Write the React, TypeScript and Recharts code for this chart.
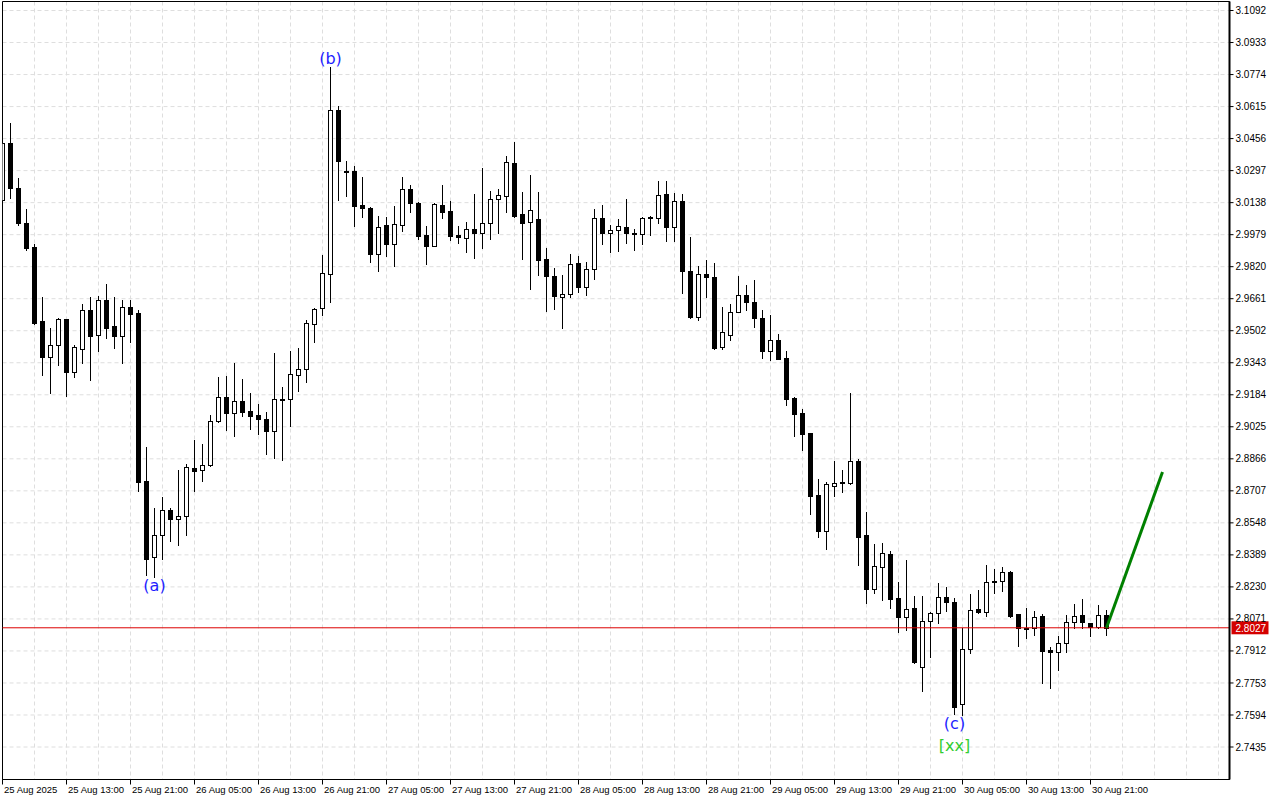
import { ComposedChart, Bar, Line, XAxis, YAxis, CartesianGrid, ReferenceLine, ReferenceDot, ReferenceArea } from 'recharts'

// hourly candles, index 0 = 25 Aug 05:00
const opens = [
  3.0153, 3.0436, 3.0212, 3.0037, 2.9916, 2.9549, 2.9372, 2.9433, 2.9559, 2.9297,
  2.9413, 2.9607, 2.9481, 2.9657, 2.9523, 2.9476, 2.9622, 2.9592, 2.8758, 2.8376,
  2.8486, 2.8610, 2.8565, 2.8583, 2.8818, 2.8808, 2.8836, 2.9056, 2.9175, 2.9091,
  2.9155, 2.9101, 2.9086, 2.9066, 2.9002, 2.9165, 2.9165, 2.9284, 2.9314, 2.9537,
  2.9617, 2.9786, 3.0599, 3.0297, 3.0293, 3.0124, 3.0113, 2.9883, 3.0025, 2.9932,
  3.0029, 3.0207, 3.0136, 2.9976, 2.9923, 3.0128, 3.0098, 2.9976, 2.9962, 3.0009,
  2.9989, 3.0039, 3.0158, 3.0173, 3.0336, 3.0080, 3.0042, 3.0055, 2.9860, 2.9776,
  2.9671, 2.9686, 2.9840, 2.9719, 2.9810, 3.0063, 2.9989, 3.0004, 3.0019, 2.9987,
  2.9984, 3.0068, 3.0063, 3.0183, 3.0019, 3.0148, 2.9800, 2.9572, 2.9786, 2.9771,
  2.9423, 2.9483, 2.9597, 2.9681, 2.9647, 2.9567, 2.9401, 2.9458, 2.9369, 2.9168,
  2.9091, 2.8992, 2.8685, 2.8508, 2.8732, 2.8751, 2.8746, 2.8854, 2.8487, 2.8218,
  2.8327, 2.8391, 2.8173, 2.8082, 2.8123, 2.7834, 2.8062, 2.8098, 2.8178, 2.8153,
  2.7647, 2.7920, 2.8118, 2.8106, 2.8254, 2.8257, 2.8302, 2.8094, 2.8026, 2.8024,
  2.8084, 2.7915, 2.7905, 2.7949, 2.8054, 2.8090, 2.8050, 2.8032, 2.8089,
]
const highs = [
  3.0442, 3.0533, 3.0258, 3.0105, 2.9934, 2.9671, 2.9514, 2.9564, 2.9561, 2.9430,
  2.9633, 2.9671, 2.9676, 2.9732, 2.9671, 2.9657, 2.9653, 2.9603, 2.8925, 2.8624,
  2.8674, 2.8624, 2.8808, 2.8839, 2.8957, 2.8942, 2.9086, 2.9274, 2.9279, 2.9340,
  2.9260, 2.9195, 2.9140, 2.9096, 2.9389, 2.9225, 2.9399, 2.9418, 2.9554, 2.9617,
  2.9876, 3.0811, 3.0616, 3.0343, 3.0318, 3.0265, 3.0115, 3.0070, 3.0066, 3.0121,
  3.0263, 3.0224, 3.0141, 3.0020, 3.0135, 3.0224, 3.0144, 3.0020, 3.0040, 3.0181,
  3.0310, 3.0194, 3.0204, 3.0368, 3.0439, 3.0189, 3.0273, 3.0189, 2.9911, 2.9815,
  2.9781, 2.9885, 2.9875, 2.9845, 3.0108, 3.0124, 3.0029, 3.0058, 3.0154, 3.0009,
  3.0065, 3.0073, 3.0244, 3.0247, 3.0187, 3.0183, 2.9969, 2.9825, 2.9855, 2.9840,
  2.9618, 2.9637, 2.9776, 2.9731, 2.9756, 2.9603, 2.9579, 2.9488, 2.9400, 2.9173,
  2.9111, 2.8994, 2.8768, 2.8751, 2.8854, 2.8810, 2.9195, 2.8863, 2.8600, 2.8441,
  2.8446, 2.8408, 2.8253, 2.8363, 2.8184, 2.8184, 2.8106, 2.8250, 2.8230, 2.8176,
  2.8027, 2.8194, 2.8214, 2.8338, 2.8318, 2.8328, 2.8308, 2.8096, 2.8123, 2.8111,
  2.8094, 2.7931, 2.7986, 2.8092, 2.8145, 2.8169, 2.8052, 2.8140, 2.8115,
]
const lows = [
  3.0149, 3.0163, 3.0025, 2.9903, 2.9537, 2.9281, 2.9193, 2.9331, 2.9178, 2.9270,
  2.9342, 2.9258, 2.9401, 2.9466, 2.9416, 2.9342, 2.9446, 2.8707, 2.8289, 2.8280,
  2.8371, 2.8459, 2.8439, 2.8488, 2.8707, 2.8756, 2.8831, 2.9051, 2.9010, 2.8980,
  2.9079, 2.9014, 2.8990, 2.8890, 2.8871, 2.8861, 2.9029, 2.9205, 2.9245, 2.9446,
  2.9579, 2.9645, 3.0149, 3.0171, 3.0022, 3.0066, 2.9843, 2.9798, 2.9873, 2.9823,
  2.9997, 3.0091, 2.9959, 2.9833, 2.9921, 3.0061, 2.9952, 2.9937, 2.9893, 2.9863,
  2.9913, 2.9957, 2.9987, 3.0091, 3.0069, 2.9858, 2.9711, 2.9779, 2.9600, 2.9610,
  2.9516, 2.9669, 2.9694, 2.9679, 2.9759, 2.9932, 2.9893, 2.9900, 2.9939, 2.9905,
  2.9932, 2.9979, 3.0039, 2.9949, 2.9949, 2.9689, 2.9567, 2.9557, 2.9669, 2.9411,
  2.9411, 2.9458, 2.9595, 2.9607, 2.9521, 2.9367, 2.9355, 2.9360, 2.9134, 2.8980,
  2.8909, 2.8591, 2.8479, 2.8419, 2.8682, 2.8702, 2.8743, 2.8338, 2.8151, 2.8201,
  2.8164, 2.8127, 2.8007, 2.8016, 2.7853, 2.7714, 2.7883, 2.8049, 2.8111, 2.7597,
  2.7594, 2.7903, 2.8098, 2.8085, 2.8201, 2.8211, 2.8082, 2.7936, 2.7977, 2.7991,
  2.7754, 2.7726, 2.7817, 2.7905, 2.8024, 2.8024, 2.7987, 2.8024, 2.7991,
]
const closes = [
  3.0436, 3.0212, 3.0035, 2.9913, 2.9540, 2.9372, 2.9433, 2.9559, 2.9297, 2.9420,
  2.9607, 2.9476, 2.9657, 2.9516, 2.9476, 2.9622, 2.9585, 2.8751, 2.8371, 2.8486,
  2.8610, 2.8565, 2.8583, 2.8823, 2.8806, 2.8833, 2.9056, 2.9175, 2.9094, 2.9155,
  2.9099, 2.9079, 2.9064, 2.9002, 2.9165, 2.9158, 2.9289, 2.9314, 2.9542, 2.9612,
  2.9791, 3.0599, 3.0344, 3.0290, 3.0121, 3.0113, 2.9883, 3.0019, 2.9932, 3.0030,
  3.0207, 3.0136, 2.9972, 2.9923, 3.0133, 3.0091, 2.9972, 2.9967, 3.0009, 2.9989,
  3.0039, 3.0158, 3.0178, 3.0341, 3.0071, 3.0039, 3.0103, 2.9853, 2.9774, 2.9674,
  2.9686, 2.9833, 2.9719, 2.9810, 3.0063, 2.9989, 3.0004, 3.0024, 2.9989, 2.9982,
  3.0063, 3.0061, 3.0178, 3.0017, 3.0148, 2.9800, 2.9570, 2.9786, 2.9771, 2.9415,
  2.9498, 2.9597, 2.9679, 2.9645, 2.9565, 2.9401, 2.9458, 2.9362, 2.9163, 2.9089,
  2.8988, 2.8682, 2.8508, 2.8739, 2.8748, 2.8746, 2.8853, 2.8479, 2.8218, 2.8332,
  2.8396, 2.8168, 2.8082, 2.8118, 2.7858, 2.8060, 2.8098, 2.8178, 2.8156, 2.7635,
  2.7920, 2.8115, 2.8106, 2.8252, 2.8259, 2.8302, 2.8087, 2.8024, 2.8022, 2.8082,
  2.7913, 2.7905, 2.7953, 2.8054, 2.8084, 2.8054, 2.8032, 2.8089, 2.8027,
]

// one label every 8 bars
const timeLabels = [
  '25 Aug 2025', '25 Aug 13:00', '25 Aug 21:00', '26 Aug 05:00', '26 Aug 13:00', '26 Aug 21:00',
  '27 Aug 05:00', '27 Aug 13:00', '27 Aug 21:00', '28 Aug 05:00', '28 Aug 13:00', '28 Aug 21:00',
  '29 Aug 05:00', '29 Aug 13:00', '29 Aug 21:00', '30 Aug 05:00', '30 Aug 13:00', '30 Aug 21:00',
]
const priceTicks = [
  3.1092, 3.0933, 3.0774, 3.0615, 3.0456, 3.0297, 3.0138, 2.9979, 2.9820, 2.9661, 2.9502, 2.9343,
  2.9184, 2.9025, 2.8866, 2.8707, 2.8548, 2.8389, 2.8230, 2.8071, 2.7912, 2.7753, 2.7594, 2.7435,
]
const lastPrice = 2.8027

// projected move (green arrow line)
const forecastBars = [138, 145]
const forecastPrices = [2.8027, 2.88]

// wave labels
const waveLabels = ['(a)', '(b)', '(c)']
const waveBars = [19, 41, 119]
const waveAt = ['low', 'high', 'low']
const degreeLabel = '[xx]'

const TOTAL_BARS = 146
const rows = Array.from({ length: TOTAL_BARS }, (_, i) => {
    const k = forecastBars.indexOf(i)
    return {
        i,
        o: opens[i],
        h: highs[i],
        l: lows[i],
        c: closes[i],
        fc: k >= 0 ? forecastPrices[k] : undefined,
    }
})

const Candle = (props: any) => {
    const { x, y, width, height, payload } = props
    if (!payload || payload.o == null || !height) return null
    const { o, h, l, c } = payload
    const yOf = (v: number) => y + ((h - v) / (h - l)) * height
    const col = Math.floor(x + width / 2)
    const bull = c >= o
    const yt = Math.round(yOf(Math.max(o, c)))
    const yb = Math.round(yOf(Math.min(o, c)))
    return (
        <g>
            <line x1={col + 0.5} x2={col + 0.5} y1={Math.round(y)} y2={Math.round(y + height) + 1} stroke="#000" strokeWidth={1} />
            {yb - yt < 1 ? (
                <line x1={col - 2} x2={col + 3} y1={yt + 0.5} y2={yt + 0.5} stroke="#000" strokeWidth={1} />
            ) : (
                <rect x={col - 1.5} y={yt + 0.5} width={4} height={yb - yt} fill={bull ? '#fff' : '#000'} stroke="#000" strokeWidth={1} />
            )}
        </g>
    )
}

const TimeTick = (props: any) => {
    const { x, y, payload } = props
    const idx = payload.value
    const label = idx % 8 === 0 ? timeLabels[idx / 8] : undefined
    if (!label) return <g />
    return (
        <g>
            <line x1={x} x2={x} y1={y} y2={y + 5} stroke="#000" />
            <text x={x + 1.5} y={y + 13} fontSize={9.5} fill="#000" textAnchor="start">
                {label}
            </text>
        </g>
    )
}

const PriceTag = (props: any) => {
    const { viewBox } = props
    if (!viewBox) return null
    const bx = viewBox.x + viewBox.width + 2
    return (
        <g>
            <rect x={bx} y={viewBox.y - 6.5} width={37} height={13} fill="#d40000" />
            <text x={bx + 4} y={viewBox.y + 4} fontSize={10} fill="#fff">{lastPrice.toFixed(4)}</text>
        </g>
    )
}

const WaveText = (text: string, color: string, dy: number) => (p: any) => (
    <text x={p.cx} y={p.cy + dy} fill={color} fontSize={16} fontFamily="DejaVu Sans" textAnchor="middle" dominantBaseline="central">
        {text}
    </text>
)

const xTicks = Array.from({ length: 39 }, (_, k) => k * 4)
const Y_MIN = 2.72737
const Y_MAX = 3.11367
const X_MAX = 153.375

export default function App() {
    return (
        <div style={{ position: 'absolute', left: 0, top: 0, width: 1280, height: 800, background: '#fff' }}>
            <ComposedChart
                width={1280}
                height={800}
                data={rows}
                margin={{ top: 1.5, right: 0, bottom: 0.5, left: 2.5 }}
                style={{ fontFamily: 'Liberation Sans, Arial, sans-serif' }}
            >
                <CartesianGrid stroke="#dedede" strokeDasharray="4 3" />
                <XAxis
                    dataKey="i"
                    type="number"
                    domain={[0, X_MAX]}
                    allowDataOverflow
                    ticks={xTicks}
                    interval={0}
                    height={20}
                    tickSize={0}
                    tickMargin={0}
                    tickLine={false}
                    axisLine={{ stroke: '#000' }}
                    tick={<TimeTick />}
                />
                <YAxis
                    orientation="right"
                    width={50.5}
                    domain={[Y_MIN, Y_MAX]}
                    allowDataOverflow
                    ticks={priceTicks}
                    interval={0}
                    tickSize={4}
                    tickMargin={2}
                    tickLine={{ stroke: '#000' }}
                    axisLine={{ stroke: '#000', strokeWidth: 2 }}
                    tick={{ fill: '#000', fontSize: 10 }}
                    tickFormatter={(v: number) => v.toFixed(4)}
                />
                <ReferenceArea x1={0} x2={X_MAX} y1={Y_MIN} y2={Y_MAX} fill="none" stroke="#000" strokeWidth={1} />
                <ReferenceLine y={lastPrice} stroke="#dd0000" strokeWidth={1} label={<PriceTag />} />
                <Bar
                    dataKey={(d: any) => (d.h == null ? null : [d.l, d.h])}
                    barSize={6}
                    shape={<Candle />}
                    isAnimationActive={false}
                />
                <Line
                    dataKey="fc"
                    stroke="#008000"
                    strokeWidth={3}
                    dot={false}
                    connectNulls
                    isAnimationActive={false}
                />
                {waveLabels.map((t, k) => {
                    const b = waveBars[k]
                    const low = waveAt[k] === 'low'
                    return (
                        <ReferenceDot
                            key={t}
                            x={b}
                            y={low ? lows[b] : highs[b]}
                            r={0}
                            shape={WaveText(t, '#1e1eff', low ? 9 : -9)}
                        />
                    )
                })}
                <ReferenceDot x={waveBars[2]} y={lows[waveBars[2]]} r={0} shape={WaveText(degreeLabel, '#32cd32', 31)} />
            </ComposedChart>
        </div>
    )
}
